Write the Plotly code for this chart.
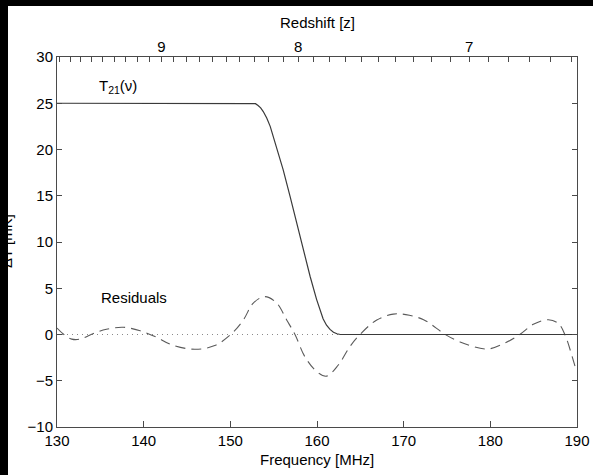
import plotly.graph_objects as go

# --- data ---
freq_t21 = [130, 152.6, 152.9, 153.2, 153.5, 153.8, 154.2, 154.6, 155.3, 156.1,
            156.9, 157.65, 158.4, 159.2, 159.95, 160.4, 160.7, 161.1, 161.5, 161.9,
            162.3, 162.7, 190]
t21 = [25, 25, 24.95, 24.75, 24.5, 24.1, 23.4, 22.5, 20.3, 17.8,
       14.9, 12.05, 9.2, 6.3, 3.8, 2.5, 1.7, 1.0, 0.55, 0.25,
       0.08, 0, 0]

freq_res = [130, 130.8, 131.7, 132.65, 134.2, 135.7, 137.65, 139.6, 141.5, 143.2,
            145.9, 148.2, 150.1, 151.5, 152.65, 154.0, 155.35, 156.5, 157.46, 158.6,
            159.96, 161.1, 162.46, 163.8, 164.96, 166.9, 168.8, 170.25, 172.3, 174.8,
            176.5, 179.6, 181.5, 183.4, 184.96, 186.7, 187.84, 188.6, 189.8, 190]
residuals = [0.7, 0.0, -0.5, -0.5, 0.1, 0.56, 0.78, 0.4, -0.3, -1.1,
             -1.6, -1.2, 0.05, 1.57, 3.4, 4.1, 3.4, 1.57, 0, -2.4,
             -4.0, -4.5, -3.3, -1.3, 0, 1.57, 2.2, 2.15, 1.6, 0,
             -0.8, -1.57, -1.0, 0, 1.1, 1.6, 1.2, 0, -3.5, -4.0]

zero_freq = [130, 190]
zero_val = [0, 0]

x_ticks = [130, 140, 150, 160, 170, 180, 190]
y_ticks = [-10, -5, 0, 5, 10, 15, 20, 25, 30]

# redshift ticks (top axis): z = 1420.4/nu - 1
nu21 = 1420.40575
z_minor = [round(9.9 - 0.1 * i, 1) for i in range(35)]  # 9.9 .. 6.5
z_labels = {9.0: "9", 8.0: "8", 7.0: "7"}

FONT = "Liberation Sans, Arial, Helvetica, sans-serif"
AXC = "#4a4a4a"
W, H = 593, 475
L, R, T, B = 57, 16, 57, 48
PW, PH = W - L - R, H - T - B


def px_x(p):
    return (p - L) / PW


def px_y(p):
    return (H - B - p) / PH


fig = go.Figure()
fig.add_trace(go.Scatter(x=zero_freq, y=zero_val, mode="lines",
                         line=dict(color="#8a8a8a", width=1, dash="1px,4px"),
                         showlegend=False, hoverinfo="skip"))
fig.add_trace(go.Scatter(x=freq_res, y=residuals, mode="lines", line_shape="spline",
                         line=dict(color="#5a5a5a", width=1.1, dash="10px,6px"),
                         showlegend=False))
fig.add_trace(go.Scatter(x=freq_t21, y=t21, mode="lines",
                         line=dict(color="#3a3a3a", width=1.2),
                         showlegend=False))
# invisible trace for top axis
fig.add_trace(go.Scatter(x=[130, 190], y=[0, 0], xaxis="x2", mode="lines",
                         line=dict(width=0), showlegend=False, hoverinfo="skip"))

fig.update_layout(
    width=W, height=H, autosize=False,
    margin=dict(l=L, r=R, t=T, b=B, autoexpand=False),
    paper_bgcolor="white", plot_bgcolor="white",
    font=dict(family=FONT, size=15, color="black"),
    xaxis=dict(range=[130, 190], tickvals=x_ticks, ticks="inside", ticklen=6,
               tickcolor=AXC, showline=True, linecolor=AXC, linewidth=1,
               mirror=True, showgrid=False, zeroline=False,
               tickfont=dict(size=15, color="black")),
    xaxis2=dict(range=[130, 190], overlaying="x", side="top",
                tickvals=[nu21 / (1 + z) for z in z_minor],
                ticktext=[z_labels.get(z, " ") for z in z_minor],
                ticks="inside", ticklen=5, tickcolor=AXC, ticklabelstandoff=-2,
                showline=True, linecolor=AXC, showgrid=False, zeroline=False,
                tickfont=dict(size=15, color="black")),
    yaxis=dict(range=[-10, 30], tickvals=y_ticks, ticks="inside", ticklen=5,
               tickcolor=AXC, showline=True, linecolor=AXC, linewidth=1,
               mirror="ticks", showgrid=False, zeroline=False,
               tickfont=dict(size=15, color="black")),
    shapes=[
        dict(type="rect", xref="paper", yref="paper", layer="below",
             x0=px_x(-5), x1=px_x(8), y0=px_y(H + 5), y1=px_y(-5),
             fillcolor="black", line=dict(width=0)),
        dict(type="rect", xref="paper", yref="paper", layer="below",
             x0=px_x(-5), x1=px_x(W + 5), y0=px_y(6), y1=px_y(-5),
             fillcolor="black", line=dict(width=0)),
    ],
    annotations=[
        dict(text="Frequency [MHz]", xref="paper", yref="paper", x=0.5,
             y=px_y(459), xanchor="center", yanchor="middle",
             showarrow=False, font=dict(size=15)),
        dict(text="Redshift [z]", xref="paper", yref="paper", x=0.5,
             y=px_y(22), xanchor="center", yanchor="middle",
             showarrow=False, font=dict(size=15)),
        dict(text="ΔT [mK]", xref="paper", yref="paper", x=px_x(6),
             y=px_y(241), xanchor="center", yanchor="middle",
             textangle=-90, showarrow=False, font=dict(size=15, color="black")),
        dict(text="T<sub>21</sub>(ν)", x=134.6, y=26.8, xref="x", yref="y",
             xanchor="left", yanchor="middle", showarrow=False, font=dict(size=15)),
        dict(text="Residuals", x=134.9, y=4.0, xref="x", yref="y",
             xanchor="left", yanchor="middle", showarrow=False, font=dict(size=15)),
    ],
)

fig.write_html("out.html")
